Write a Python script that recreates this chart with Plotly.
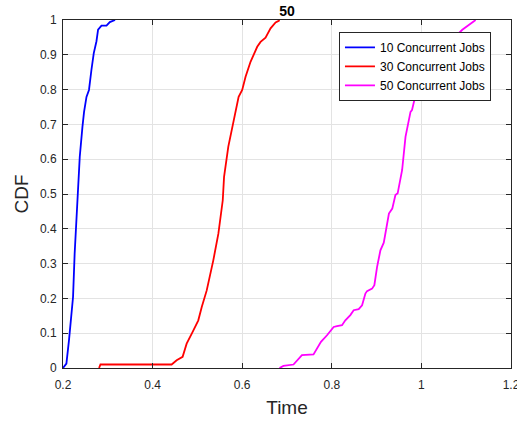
import plotly.graph_objects as go

# 10 concurrent jobs
x10 = [0.200, 0.2076, 0.2134, 0.2165, 0.2224, 0.226, 0.230, 0.2335, 0.2374, 0.2434, 0.247,
       0.2524, 0.258, 0.2635, 0.2687, 0.2747, 0.2783, 0.2859, 0.2971, 0.3045, 0.3105, 0.3163]
y10 = [0.0, 0.0126, 0.08, 0.118, 0.204, 0.329, 0.425, 0.482, 0.607, 0.693, 0.736,
       0.779, 0.799, 0.857, 0.905, 0.939, 0.972, 0.984, 0.984, 0.994, 0.996, 1.0]

# 30 concurrent jobs
x30 = [0.2805, 0.2836, 0.4425, 0.4537, 0.467, 0.476, 0.4894, 0.502, 0.5097, 0.5208, 0.5356,
       0.5468, 0.5566, 0.5595, 0.569, 0.5789, 0.5879, 0.592, 0.600, 0.6075, 0.6186, 0.6335,
       0.641, 0.6521, 0.6633, 0.6745, 0.6819, 0.683]
y30 = [0.0, 0.01, 0.01, 0.022, 0.032, 0.07, 0.104, 0.137, 0.175, 0.223, 0.31,
       0.386, 0.482, 0.549, 0.636, 0.698, 0.760, 0.779, 0.799, 0.837, 0.880, 0.923,
       0.937, 0.949, 0.976, 0.993, 0.998, 1.0]

# 50 concurrent jobs
x50 = [0.6832, 0.692, 0.7145, 0.722, 0.7333, 0.7592, 0.7653, 0.7758, 0.7893, 0.8041, 0.8116,
       0.8228, 0.8302, 0.8414, 0.8488, 0.860, 0.8676, 0.875, 0.8787, 0.8899, 0.895, 0.901,
       0.9085, 0.916, 0.9275, 0.935, 0.942, 0.947, 0.957, 0.9645, 0.9757, 0.979, 0.9868,
       0.992, 0.9964, 1.02, 1.05, 1.0913, 1.121]
y50 = [0.0, 0.006, 0.01, 0.022, 0.037, 0.039, 0.051, 0.075, 0.094, 0.118, 0.12,
       0.123, 0.137, 0.152, 0.166, 0.169, 0.18, 0.214, 0.221, 0.228, 0.238, 0.29,
       0.338, 0.36, 0.444, 0.458, 0.497, 0.502, 0.569, 0.664, 0.736, 0.741, 0.784,
       0.808, 0.816, 0.87, 0.92, 0.972, 1.0]

names = ["10 Concurrent Jobs", "30 Concurrent Jobs", "50 Concurrent Jobs"]
colors = ["#0000ff", "#ff0000", "#ff00ff"]

x_ticks = [0.2, 0.4, 0.6, 0.8, 1.0, 1.2]
x_tick_labels = ["0.2", "0.4", "0.6", "0.8", "1", "1.2"]
y_ticks = [0, 0.1, 0.2, 0.3, 0.4, 0.5, 0.6, 0.7, 0.8, 0.9, 1.0]
y_tick_labels = ["0", "0.1", "0.2", "0.3", "0.4", "0.5", "0.6", "0.7", "0.8", "0.9", "1"]

fig = go.Figure()
for xs, ys, n, c in zip([x10, x30, x50], [y10, y30, y50], names, colors):
    fig.add_trace(go.Scatter(x=xs, y=ys, mode="lines", name=n,
                             line=dict(color=c, width=1.8)))

font = "Liberation Sans, Arial, sans-serif"
axis_common = dict(showline=True, linecolor="#262626", linewidth=1, mirror="ticks",
                   ticks="inside", ticklen=5, tickcolor="#262626",
                   showgrid=True, gridcolor="#e3e3e3", gridwidth=1, zeroline=False,
                   automargin=False, ticklabeloverflow="allow",
                   tickfont=dict(family=font, size=12, color="#262626"))

fig.update_layout(
    width=517, height=423,
    margin=dict(l=63, r=6, t=20, b=55, autoexpand=False),
    paper_bgcolor="white", plot_bgcolor="white",
    title=dict(text="<b>50</b>", x=0.5, xref="paper", xanchor="center",
               y=1, yref="paper", yanchor="bottom", pad=dict(b=4), automargin=False,
               font=dict(family=font, size=14, color="#000000")),
    xaxis=dict(range=[0.2, 1.2], tickvals=x_ticks, ticktext=x_tick_labels,
               ticklabelstandoff=6,
               title=dict(text="Time", font=dict(family=font, size=19, color="#262626"), standoff=9),
               **axis_common),
    yaxis=dict(range=[0, 1], tickvals=y_ticks, ticktext=y_tick_labels,
               ticklabelstandoff=3,
               title=dict(text="CDF", font=dict(family=font, size=19, color="#262626"), standoff=6),
               **axis_common),
    legend=dict(x=0.616, y=0.966, xanchor="left", yanchor="top",
                bgcolor="white", bordercolor="#262626", borderwidth=1,
                font=dict(family=font, size=12, color="#000000"),
                tracegroupgap=0, itemwidth=30),
    showlegend=True,
)

fig.write_html("out.html", config={"displayModeBar": False},
               post_script="document.body.style.margin='0';document.body.style.padding='0';")
